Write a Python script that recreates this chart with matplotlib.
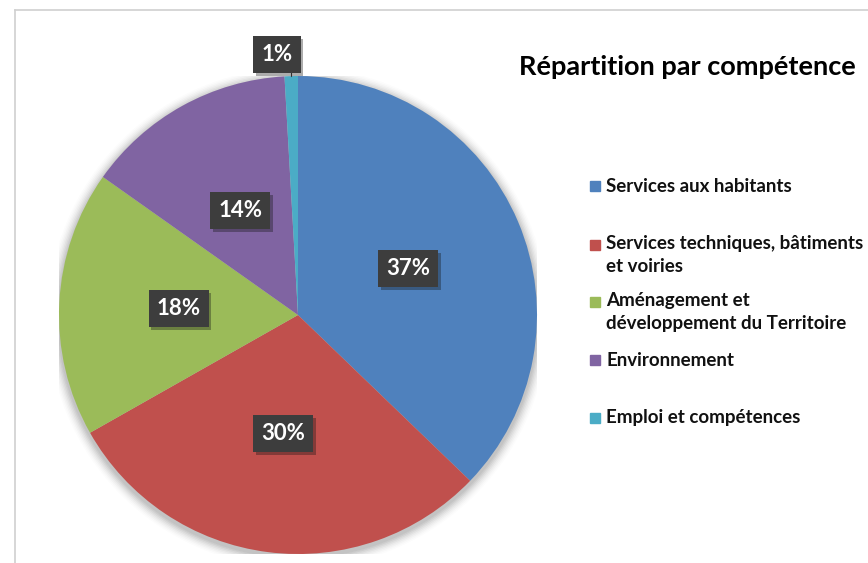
import matplotlib
matplotlib.use('Agg')
import matplotlib.pyplot as plt
from matplotlib.patches import Circle, Rectangle
from matplotlib.lines import Line2D
from matplotlib import patheffects as pe
import numpy as np

plt.rcParams['font.family'] = ['Lato', 'DejaVu Sans']

categories = ['Services aux habitants',
              'Services techniques, bâtiments\net voiries',
              'Aménagement et\ndéveloppement du Territoire',
              'Environnement',
              'Emploi et compétences']
values = [37.2, 29.6, 18.0, 14.3, 0.9]
colors = ['#4f81bd', '#c0504d', '#9bbb59', '#8064a2', '#4bacc6']
title = 'Répartition par compétence'

W, H = 868, 563
fig = plt.figure(figsize=(W / 100, H / 100), dpi=100)
fig.patch.set_facecolor('white')

# cadre gris (coin haut-gauche visible)
fig.add_artist(Line2D([15 / W, 15 / W], [0, 1 - 10 / H], color='#d0d0d0', lw=1.2))
fig.add_artist(Line2D([15 / W, 1], [1 - 10 / H, 1 - 10 / H], color='#d0d0d0', lw=1.2))

# camembert
cx, cy, R = 298, 315, 239
ax = fig.add_axes([(cx - R) / W, (H - cy - R) / H, 2 * R / W, 2 * R / H])

# ombre douce
for i, a in enumerate(np.linspace(0.05, 0.012, 8)):
    ax.add_patch(Circle((0, -0.012), 1.0 + 0.006 * (i + 1), color='black',
                        alpha=a, lw=0, zorder=0))

wedges, _ = ax.pie(values, colors=colors, startangle=90, counterclock=False,
                   radius=1, wedgeprops=dict(linewidth=0))
for w in wedges:
    w.set_zorder(2)
ax.set_xlim(-1, 1)
ax.set_ylim(-1, 1)
ax.set_aspect('equal')
ax.axis('off')

shadow = [pe.SimplePatchShadow(offset=(2, -2), alpha=0.35), pe.Normal()]


def label(x, y, s):
    t = ax.text(x, y, s, ha='center', va='center', fontsize=16, fontweight='bold',
                color='white', zorder=4,
                bbox=dict(boxstyle='square,pad=0.36', fc='#3d3d3d', ec='none'))
    t.get_bbox_patch().set_path_effects(shadow)
    return t


total = sum(values)
for w, v in zip(wedges, values):
    ang = np.deg2rad((w.theta1 + w.theta2) / 2)
    lab = f'{v / total * 100:.0f}%'
    if v / total < 0.05:
        ex, ey = np.cos(ang), np.sin(ang)
        tx, ty = -0.088, 1.09
        ax.plot([ex, ex], [ey, ty - 0.07], color='#404040', lw=0.8, zorder=3,
                clip_on=False)
        label(tx, ty, lab)
    else:
        label(0.5 * np.cos(ang), 0.5 * np.sin(ang), lab)

# titre
fig.text(687 / W, 1 - 67 / H, title, ha='center', va='center',
         fontsize=19.5, fontweight='bold', color='black')

# légende
leg_y = [186, 245, 302, 360, 418]
for c, lab, y in zip(colors, categories, leg_y):
    fig.add_artist(Rectangle((590 / W, 1 - (y + 5) / H), 10 / W, 10 / H,
                             color=c, transform=fig.transFigure))
    fig.text(606 / W, 1 - (y - 10) / H if '\n' in lab else 1 - y / H, lab,
             ha='left', va='top' if '\n' in lab else 'center',
             fontsize=13.5, fontweight='bold', color='#111111', linespacing=1.45)

fig.savefig('out.png', dpi=100)
